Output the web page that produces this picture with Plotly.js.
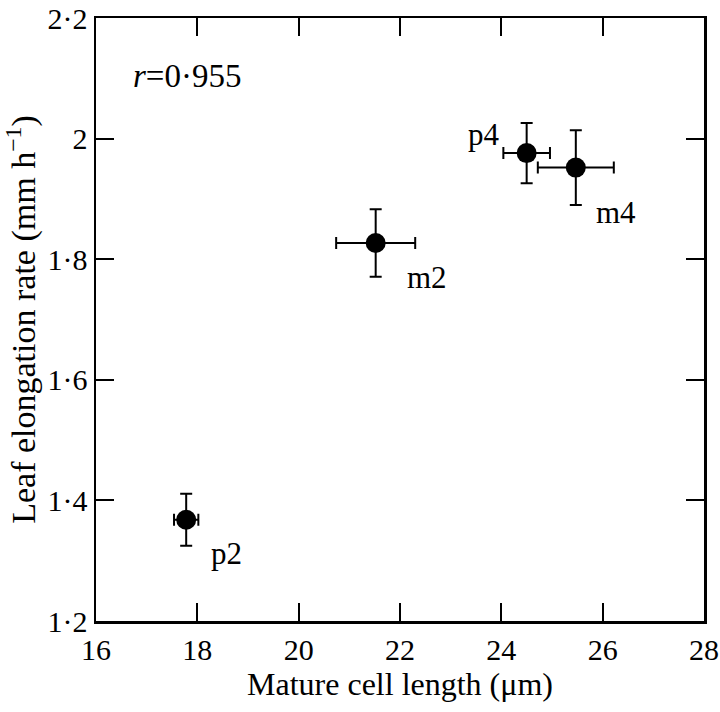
<!DOCTYPE html>
<html>
<head>
<meta charset="utf-8">
<script src="https://cdn.plot.ly/plotly-3.0.1.min.js"></script>
<style>html,body{margin:0;padding:0;background:#fff;}#chart{width:720px;height:712px;}</style>
</head>
<body>
<div id="chart"></div>
<script>
// Data
const labels = ["p2", "m2", "p4", "m4"];
const cellLength = [17.78, 21.52, 24.50, 25.47];      // µm
const cellLengthErr = [0.24, 0.78, 0.46, 0.75];
const elongRate = [1.368, 1.827, 1.976, 1.952];       // mm h-1
const elongRateErr = [0.043, 0.056, 0.050, 0.062];
const xTicks = [16, 18, 20, 22, 24, 26, 28];
const yTicks = [1.2, 1.4, 1.6, 1.8, 2.0, 2.2];
const yTickText = ["1·2", "1·4", "1·6", "1·8", "2", "2·2"];
const rText = "<i>r</i>=0·955";
// label offsets in pixels (x right, y up)
const labelShiftX = [40, 51, -43, 40];
const labelShiftY = [-34, -35, 19, -45];

const FONT = "Liberation Serif";

const trace = {
  x: cellLength,
  y: elongRate,
  mode: "markers",
  type: "scatter",
  marker: {color: "#000", size: 20},
  error_x: {type: "data", array: cellLengthErr, visible: true, color: "#000", thickness: 2, width: 6},
  error_y: {type: "data", array: elongRateErr, visible: true, color: "#000", thickness: 2, width: 6},
  hoverinfo: "none",
  showlegend: false
};

const annotations = labels.map((t, i) => ({
  x: cellLength[i], y: elongRate[i], xref: "x", yref: "y",
  text: t, showarrow: false, xanchor: "center", yanchor: "middle",
  xshift: labelShiftX[i], yshift: labelShiftY[i],
  font: {family: FONT, size: 31, color: "#000"}
}));
annotations.push({
  x: 0.149, y: 0.903, xref: "paper", yref: "paper",
  text: rText, showarrow: false, xanchor: "center", yanchor: "middle",
  font: {family: FONT, size: 33, color: "#000"}
});

const axisCommon = {
  showgrid: false, zeroline: false,
  showline: true, linecolor: "#000", linewidth: 2.5, mirror: "ticks",
  ticks: "inside", ticklen: 18, tickwidth: 2, tickcolor: "#000",
  ticklabeloverflow: "allow",
  tickfont: {family: FONT, size: 30, color: "#000"}
};

const layout = {
  width: 720, height: 712,
  margin: {l: 96, r: 16, t: 18, b: 91},
  paper_bgcolor: "#fff", plot_bgcolor: "#fff",
  font: {family: FONT, color: "#000"},
  xaxis: Object.assign({}, axisCommon, {
    range: [16, 28.0001], tickvals: xTicks, ticktext: xTicks.map(String),
    title: {text: "Mature cell length (μm)", font: {family: FONT, size: 32, color: "#000"}, standoff: 8}
  }),
  yaxis: Object.assign({}, axisCommon, {
    range: [1.2, 2.2001], tickvals: yTicks, ticktext: yTickText,
    title: {text: "Leaf elongation rate (mm h<sup>−1</sup>)", font: {family: FONT, size: 34, color: "#000"}, standoff: 6}
  }),
  annotations: annotations
};

Plotly.newPlot("chart", [trace], layout, {displayModeBar: false, staticPlot: true});
</script>
</body>
</html>
